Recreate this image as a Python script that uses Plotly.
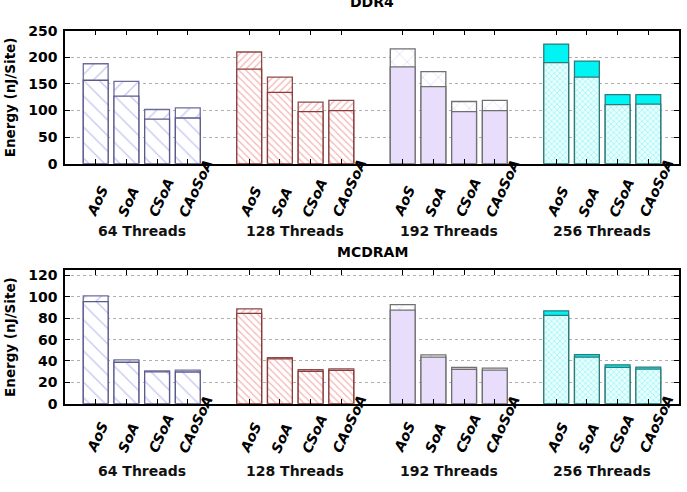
import plotly.graph_objects as go

# ---------------- data ----------------
groups = ["64 Threads", "128 Threads", "192 Threads", "256 Threads"]
layouts = ["AoS", "SoA", "CSoA", "CAoSoA"]
panels = ["DDR4", "MCDRAM"]
y_title = "Energy (nJ/Site)"

# lower segment and full bar height, per group x layout
ddr4_base = [[157, 127, 84, 86], [178, 134, 98, 100], [182, 145, 98, 100], [190, 163, 111, 112]]
ddr4_total = [[188, 155, 102, 105], [210, 163, 116, 119], [216, 173, 117, 119], [225, 193, 130, 130]]
mcdram_base = [[95.5, 38.8, 29.8, 29.7], [84.5, 42, 30.3, 31.2], [87.6, 43.6, 32.1, 31.5], [82.7, 43.6, 34, 32.4]]
mcdram_total = [[101, 41, 30.6, 31.5], [88.8, 43, 31.8, 32.7], [92.7, 45.7, 33.9, 33.3], [87, 46, 36.4, 34.2]]

ddr4_ticks = [0, 50, 100, 150, 200, 250]
mcdram_ticks = [0, 20, 40, 60, 80, 100, 120]

# ---------------- styles ----------------
FONT = "DejaVu Sans"
W, H = 687, 492
X0, X1 = 65, 679
PANEL_PX = [(23.5, 161), (271, 409)]
YMAX = [250, 125]
LABEL_BOTTOM_PX = [221, 465]
GROUP_LABEL_PX = [230, 479]
TITLE_PX = [-6, 252]

lower_style = [
    dict(color="white", pattern=dict(shape="\\", fgcolor="#8c8ce8", bgcolor="white", size=11, solidity=0.12),
         line=dict(color="#5a5a8c", width=1.3)),
    dict(color="white", pattern=dict(shape="\\", fgcolor="#ee7272", bgcolor="white", size=5, solidity=0.28),
         line=dict(color="#8a3c3c", width=1.3)),
    dict(color="#e8defc", line=dict(color="#707070", width=1.3)),
    dict(color="white", pattern=dict(shape="x", fgcolor="#5ee8e8", bgcolor="#e8ffff", size=4, solidity=0.35),
         line=dict(color="#2f7a7a", width=1.3)),
]
upper_style = [
    dict(color="white", pattern=dict(shape="/", fgcolor="#8c8ce8", bgcolor="white", size=11, solidity=0.12),
         line=dict(color="#6c6c9c", width=1.3)),
    dict(color="white", pattern=dict(shape="/", fgcolor="#ee7272", bgcolor="white", size=5, solidity=0.28),
         line=dict(color="#8a4a4a", width=1.3)),
    dict(color="white", pattern=dict(shape="x", fgcolor="#b9a8ee", bgcolor="white", size=11, solidity=0.12),
         line=dict(color="#707070", width=1.3)),
    dict(color="#00f4f4", line=dict(color="#2f7a7a", width=1.3)),
]


def ypaper(px):
    return 1 - px / H


fig = go.Figure()
n_slot = len(layouts) + 1
positions = [gi * n_slot + li for gi in range(len(groups)) for li in range(len(layouts))]

all_base = [ddr4_base, mcdram_base]
all_total = [ddr4_total, mcdram_total]

annotations = []
for pi in range(len(panels)):
    xr = "x" if pi == 0 else "x2"
    yr = "y" if pi == 0 else "y2"
    for gi in range(len(groups)):
        xs = [gi * n_slot + li for li in range(len(layouts))]
        fig.add_trace(go.Bar(x=xs, y=all_total[pi][gi], width=0.81, marker=upper_style[gi],
                             xaxis=xr, yaxis=yr, showlegend=False))
        fig.add_trace(go.Bar(x=xs, y=all_base[pi][gi], width=0.81, marker=lower_style[gi],
                             xaxis=xr, yaxis=yr, showlegend=False))
        for li, lab in enumerate(layouts):
            annotations.append(dict(
                x=xs[li] - 0.48, xref=xr, y=ypaper(LABEL_BOTTOM_PX[pi]), yref="paper",
                text=lab, showarrow=False, textangle=-65, xanchor="left", yanchor="bottom",
                font=dict(family=FONT, size=14, color="black", weight="bold", style="italic")))
        annotations.append(dict(
            x=gi * n_slot + 1.5, xref=xr, y=ypaper(GROUP_LABEL_PX[pi]), yref="paper",
            text=groups[gi], showarrow=False, xanchor="center", yanchor="middle",
            font=dict(family=FONT, size=14, color="#111111", weight="bold")))
    annotations.append(dict(
        x=(X0 + X1) / 2 / W, xref="paper", y=ypaper(TITLE_PX[pi]), yref="paper",
        text=panels[pi], showarrow=False, xanchor="center", yanchor="middle",
        font=dict(family=FONT, size=14, color="black", weight="bold")))
    annotations.append(dict(
        x=10 / W, xref="paper", y=ypaper((PANEL_PX[pi][0] + PANEL_PX[pi][1]) / 2), yref="paper",
        text=y_title, showarrow=False, textangle=-90, xanchor="center", yanchor="middle",
        font=dict(family=FONT, size=13.5, color="black", weight="bold")))

xaxis_common = dict(range=[-1, n_slot * len(groups) - 1], tickvals=positions, ticks="inside", ticklen=5,
                    tickcolor="black", tickwidth=1, showticklabels=False, mirror="allticks", showline=True,
                    linecolor="black", linewidth=1.5, showgrid=False, zeroline=False,
                    domain=[X0 / W, X1 / W])


def yaxis(pi, ticks, anchor):
    return dict(range=[0, YMAX[pi]], tickvals=ticks, ticks="inside", ticklen=5, tickcolor="black",
                tickwidth=1, mirror="allticks", showline=True, linecolor="black", linewidth=1.5,
                showgrid=True, gridcolor="#b0b0b0", griddash="dot", gridwidth=1, zeroline=False,
                ticklabelstandoff=3,
                tickfont=dict(family=FONT, size=14, color="black", weight="bold"),
                domain=[ypaper(PANEL_PX[pi][1]), ypaper(PANEL_PX[pi][0])], anchor=anchor)


fig.update_layout(
    width=W, height=H, margin=dict(l=0, r=0, t=0, b=0),
    paper_bgcolor="white", plot_bgcolor="white", barmode="overlay",
    xaxis=dict(xaxis_common, anchor="y"),
    xaxis2=dict(xaxis_common, anchor="y2"),
    yaxis=yaxis(0, ddr4_ticks, "x"),
    yaxis2=yaxis(1, mcdram_ticks, "x2"),
    annotations=annotations,
)

fig.write_html("out.html")
